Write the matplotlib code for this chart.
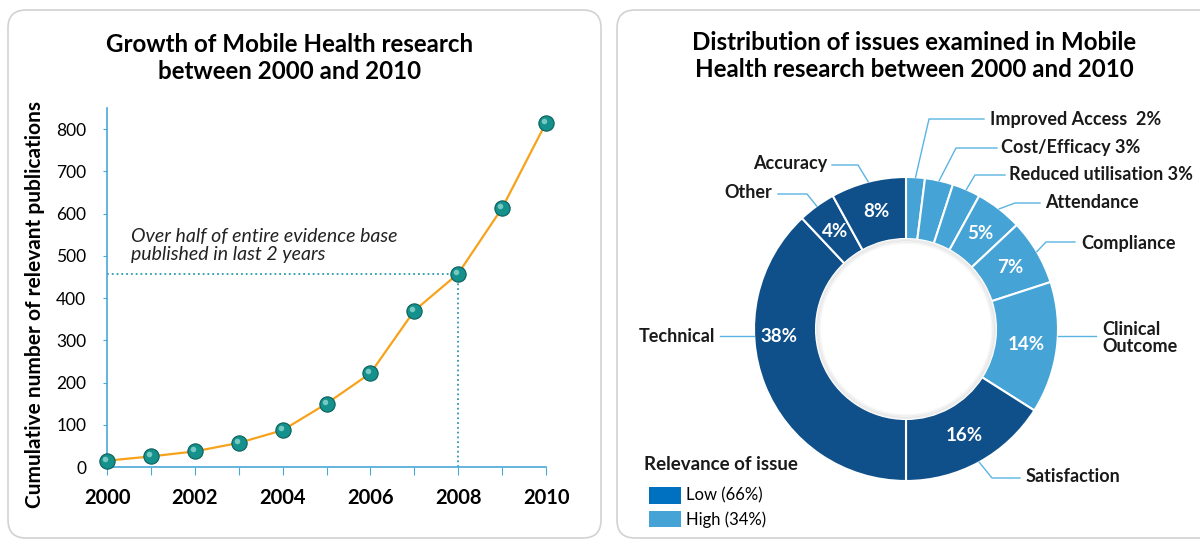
import numpy as np
import matplotlib.pyplot as plt
from matplotlib.patches import FancyBboxPatch, Patch
from matplotlib.transforms import ScaledTranslation

plt.rcParams['font.family'] = ['Lato', 'DejaVu Sans']

# left chart data
years = [2000, 2001, 2002, 2003, 2004, 2005, 2006, 2007, 2008, 2009, 2010]
publications = [15, 25, 37, 57, 87, 150, 222, 370, 458, 613, 815]
mark_year = 2008
mark_value = 458

# right chart data (clockwise from 12 o'clock)
issues = ['Improved Access', 'Cost/Efficacy', 'Reduced utilisation', 'Attendance',
          'Compliance', 'Clinical\nOutcome', 'Satisfaction', 'Technical', 'Other', 'Accuracy']
shares = [2, 3, 3, 5, 7, 14, 16, 38, 4, 8]
relevance = ['High', 'High', 'High', 'High', 'High', 'High', 'Low', 'Low', 'Low', 'Low']
relevance_labels = ['Low (66%)', 'High (34%)']

W, H = 1200, 541
DARK = '#10508a'
LIGHT = '#45a3d6'
LOW_SWATCH = '#0070c0'
LEAD = '#5ab4e2'
AXBLUE = '#4aa8d8'

fig = plt.figure(figsize=(W / 100, H / 100), dpi=100)

# ---------------- left: line chart ----------------
ax = fig.add_axes([107 / W, (H - 467) / H, (546 - 107) / W, (467 - 108) / H])
ax.plot(years, publications, color='#f7a21b', lw=1.6, zorder=2, clip_on=False)
ax.plot(years, publications, 'o', ms=11, mfc='#14918c', mec='#0b5f5b', mew=0.8,
        zorder=3, clip_on=False)
# small highlight on each ball
ax.plot(years, publications, 'o', ms=4, mfc='#8fd6cf', mec='none', alpha=0.8,
        zorder=4, clip_on=False,
        transform=ax.transData + ScaledTranslation(-2 / 100, 2 / 100, fig.dpi_scale_trans))
ax.plot([years[0], mark_year], [mark_value, mark_value], ls=':', color='#2a9bb0', lw=1.3, zorder=1)
ax.plot([mark_year, mark_year], [0, mark_value], ls=':', color='#2a9bb0', lw=1.3, zorder=1)
ax.text(2000.55, 525, 'Over half of entire evidence base\npublished in last 2 years',
        style='italic', fontsize=14, va='center', ha='left', color='#222222', linespacing=1.1)

ax.set_xlim(2000, 2010)
ax.set_ylim(0, 850)
ax.set_yticks(range(0, 801, 100))
ax.set_xticks(years)
ax.set_xticklabels([str(y) if y % 2 == 0 else '' for y in years], fontweight='bold', fontsize=14.5)
ax.tick_params(axis='x', length=6, color=AXBLUE, pad=9)
ax.tick_params(axis='y', length=3, color=AXBLUE, labelsize=12.5, pad=12)
for s in ['top', 'right']:
    ax.spines[s].set_visible(False)
for s in ['left', 'bottom']:
    ax.spines[s].set_color(AXBLUE)
    ax.spines[s].set_linewidth(1.2)
ax.set_ylabel('Cumulative number of relevant publications', fontweight='bold', fontsize=15)
ax.yaxis.set_label_coords(-62 / 439, (467 - 305) / 359)

# ---------------- overlay: panels, donut, titles ----------------
ov = fig.add_axes([0, 0, 1, 1])
ov.patch.set_alpha(0)

cx, cy, R, r_in = 906, 329, 152, 90
colors = [LIGHT if v == 'High' else DARK for v in relevance]
ov.pie(shares, colors=colors, startangle=-90, counterclock=True, center=(cx, cy), radius=R,
       wedgeprops=dict(width=R - r_in, edgecolor='white', linewidth=1.5))
# soft shadow around hole
for k, a in enumerate([0.10, 0.07, 0.04]):
    ov.add_patch(plt.Circle((cx, cy), r_in - 1 - k * 1.5, fill=False, ec='#555555', lw=1.5, alpha=a))

ov.set_xlim(0, W)
ov.set_ylim(H, 0)
ov.set_aspect('equal')
ov.axis('off')

for x0, x1 in [(8, 601), (617, 1230)]:
    ov.add_patch(FancyBboxPatch((x0, 10), x1 - x0, 528, boxstyle='round,pad=0,rounding_size=18',
                                fc='none', ec='#d2d2d2', lw=1.2))

ov.text(290, 58, 'Growth of Mobile Health research\nbetween 2000 and 2010', ha='center', va='center',
        fontsize=17.4, fontweight='bold', linespacing=1.2)
ov.text(914, 56, 'Distribution of issues examined in Mobile\nHealth research between 2000 and 2010',
        ha='center', va='center', fontsize=17.4, fontweight='bold', linespacing=1.2)

# wedge geometry
cum = np.cumsum([0] + shares)
mids = (cum[:-1] + cum[1:]) / 2 / 100 * 360


def pt(theta, rad):
    t = np.deg2rad(theta)
    return cx + rad * np.sin(t), cy - rad * np.cos(t)


# percentage labels inside wedges
for i, (v, th) in enumerate(zip(shares, mids)):
    if v < 4:
        continue
    rad = (R + r_in) / 2
    if issues[i] == 'Technical':
        th, rad = 266.8, 127
    x, y = pt(th, rad)
    ov.text(x, y, f'{v}%', color='white', fontweight='bold', fontsize=13.5, ha='center', va='center')

# outer labels with leader lines: (elbow, end, text x, text y, ha)
layout = {
    'Improved Access': ((929, 119), (984, 119), 990, 119, 'left'),
    'Cost/Efficacy': ((956, 148), (997, 148), 1001, 148, 'left'),
    'Reduced utilisation': ((975, 175), (1005, 175), 1009, 175, 'left'),
    'Attendance': ((1015, 203), (1040, 203), 1045, 203, 'left'),
    'Compliance': ((1046, 242), (1075, 242), 1081, 244, 'left'),
    'Clinical\nOutcome': (None, (1096, 336), 1102, 338, 'left'),
    'Satisfaction': ((992, 478), (1020, 478), 1026, 476, 'left'),
    'Technical': (None, (720, 336), 715, 336, 'right'),
    'Other': ((807, 194), (778, 194), 772, 193, 'right'),
    'Accuracy': ((858, 165), (832, 165), 827, 163, 'right'),
}
for name, v, th in zip(issues, shares, mids):
    elbow, end, tx, ty, ha = layout[name]
    if elbow is None:
        dx = np.sqrt(R ** 2 - (end[1] - cy) ** 2)
        start = (cx + dx if end[0] > cx else cx - dx, end[1])
        xs, ys = [start[0], end[0]], [start[1], end[1]]
    else:
        start = pt(th, R)
        xs, ys = [start[0], elbow[0], end[0]], [start[1], elbow[1], end[1]]
    ov.plot(xs, ys, color=LEAD, lw=1)
    label = name + (f' {v}%' if v < 4 else '')
    if name == 'Improved Access':
        label = name + f'  {v}%'
    ov.text(tx, ty, label, ha=ha, va='center', fontsize=13, fontweight='bold', color='#1a1a1a',
            linespacing=1.05)

# legend
ov.text(644, 465, 'Relevance of issue', ha='left', va='center', fontsize=13.5, fontweight='bold',
        color='#1a1a1a')
handles = [Patch(fc=LOW_SWATCH, ec='none'), Patch(fc=LIGHT, ec='none')]
leg = ov.legend(handles, relevance_labels, loc='upper left',
                bbox_to_anchor=(634 / W, 1 - 472 / H), frameon=False, fontsize=12,
                handlelength=1.9, handleheight=1.15, handletextpad=0.3, labelspacing=0.42)

fig.savefig('out.png', dpi=100)
